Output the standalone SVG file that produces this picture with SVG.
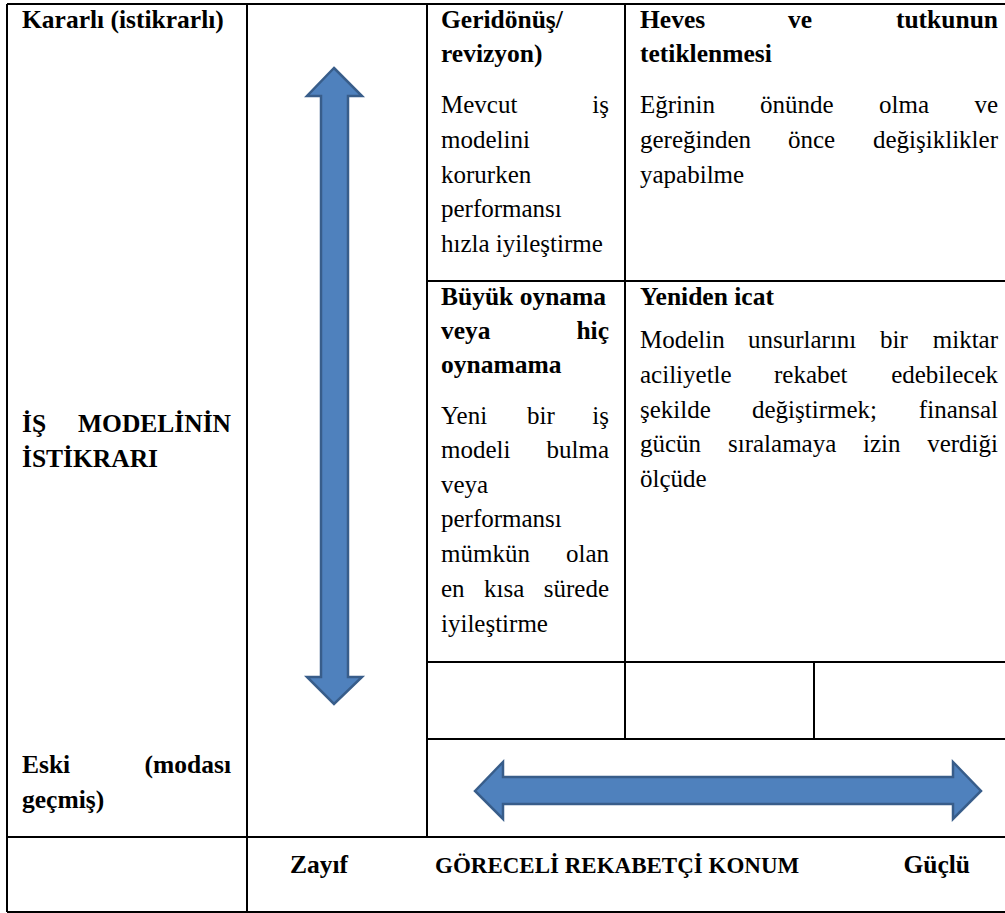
<svg xmlns="http://www.w3.org/2000/svg" width="1005" height="913" viewBox="0 0 1005 913">
<style>
.ln{stroke:#000;stroke-width:2;fill:none}
text{font-family:"Liberation Serif","Tinos","DejaVu Serif",serif;fill:#000}
.b{font-weight:bold;font-size:25.5px}
.r{font-size:25px}
.e{text-anchor:end}
.arr{fill:#4F81BD;stroke:#385D8A;stroke-width:2.5;stroke-linejoin:miter}
</style>
<rect width="1005" height="913" fill="#fff"/>
<g id="grid">
<path class="ln" d="M7 4H1010M7 4V912M7 912H1010M247 4V912M427 4V837M625 4V739M814 662V739M427 281H1010M427 662H1010M427 739H1010M7 837H1010"/>
</g>
<g id="connectors">
<path class="arr" d="M334 68L362 96H348V677H362L334 704L307 677H321V96H307Z"/>
<path class="arr" d="M475 791L503 762V777H953V762L981 791L953 819V804H503V819Z"/>
</g>
<g font-family="Liberation Serif, Tinos, DejaVu Serif, serif">
<g id="stable">
<text class="b" x="22" y="28">Kararlı (istikrarlı)</text>
</g>
<g id="axis-y">
<text class="b" x="22" y="432">İŞ</text>
<text class="b e" x="231" y="432">MODELİNİN</text>
<text class="b" x="22" y="467">İSTİKRARI</text>
</g>
<g id="old">
<text class="b" x="22" y="773">Eski</text>
<text class="b e" x="231" y="773">(modası</text>
<text class="b" x="22" y="808">geçmiş)</text>
</g>
<g id="revizyon">
<text class="b" x="441" y="28">Geridönüş/</text>
<text class="b" x="441" y="62">revizyon)</text>
<text class="r" x="441" y="113">Mevcut</text>
<text class="r e" x="609" y="113">iş</text>
<text class="r" x="441" y="148">modelini</text>
<text class="r" x="441" y="183">korurken</text>
<text class="r" x="441" y="217">performansı</text>
<text class="r" x="441" y="252">hızla iyileştirme</text>
</g>
<g id="heves">
<text class="b" x="640" y="28">Heves</text>
<text class="b" x="788" y="28">ve</text>
<text class="b e" x="998" y="28">tutkunun</text>
<text class="b" x="640" y="62">tetiklenmesi</text>
<text class="r" x="640" y="113">Eğrinin</text>
<text class="r" x="760" y="113">önünde</text>
<text class="r" x="879" y="113">olma</text>
<text class="r e" x="998" y="113">ve</text>
<text class="r" x="640" y="148">gereğinden</text>
<text class="r" x="788" y="148">önce</text>
<text class="r e" x="998" y="148">değişiklikler</text>
<text class="r" x="640" y="183">yapabilme</text>
</g>
<g id="buyuk">
<text class="b" x="441" y="305">Büyük oynama</text>
<text class="b" x="441" y="339">veya</text>
<text class="b e" x="609" y="339">hiç</text>
<text class="b" x="441" y="373">oynamama</text>
<text class="r" x="441" y="424">Yeni</text>
<text class="r" x="527" y="424">bir</text>
<text class="r e" x="609" y="424">iş</text>
<text class="r" x="441" y="458">modeli</text>
<text class="r e" x="609" y="458">bulma</text>
<text class="r" x="441" y="493">veya</text>
<text class="r" x="441" y="527">performansı</text>
<text class="r" x="441" y="562">mümkün</text>
<text class="r e" x="609" y="562">olan</text>
<text class="r" x="441" y="597">en</text>
<text class="r" x="484" y="597">kısa</text>
<text class="r e" x="609" y="597">sürede</text>
<text class="r" x="441" y="632">iyileştirme</text>
</g>
<g id="yeniden">
<text class="b" x="640" y="305">Yeniden icat</text>
<text class="r" x="640" y="348">Modelin</text>
<text class="r" x="748" y="348">unsurlarını</text>
<text class="r" x="880" y="348">bir</text>
<text class="r e" x="998" y="348">miktar</text>
<text class="r" x="640" y="383">aciliyetle</text>
<text class="r" x="774" y="383">rekabet</text>
<text class="r e" x="998" y="383">edebilecek</text>
<text class="r" x="640" y="418">şekilde</text>
<text class="r" x="752" y="418">değiştirmek;</text>
<text class="r e" x="998" y="418">finansal</text>
<text class="r" x="640" y="452">gücün</text>
<text class="r" x="728" y="452">sıralamaya</text>
<text class="r" x="863" y="452">izin</text>
<text class="r e" x="998" y="452">verdiği</text>
<text class="r" x="640" y="487">ölçüde</text>
</g>
<g id="axis-x">
<text class="b" x="290" y="873">Zayıf</text>
<text class="b" x="435" y="873" style="font-size:23px">GÖRECELİ REKABETÇİ KONUM</text>
<text class="b e" x="970" y="873">Güçlü</text>
</g>
</g>
</svg>
